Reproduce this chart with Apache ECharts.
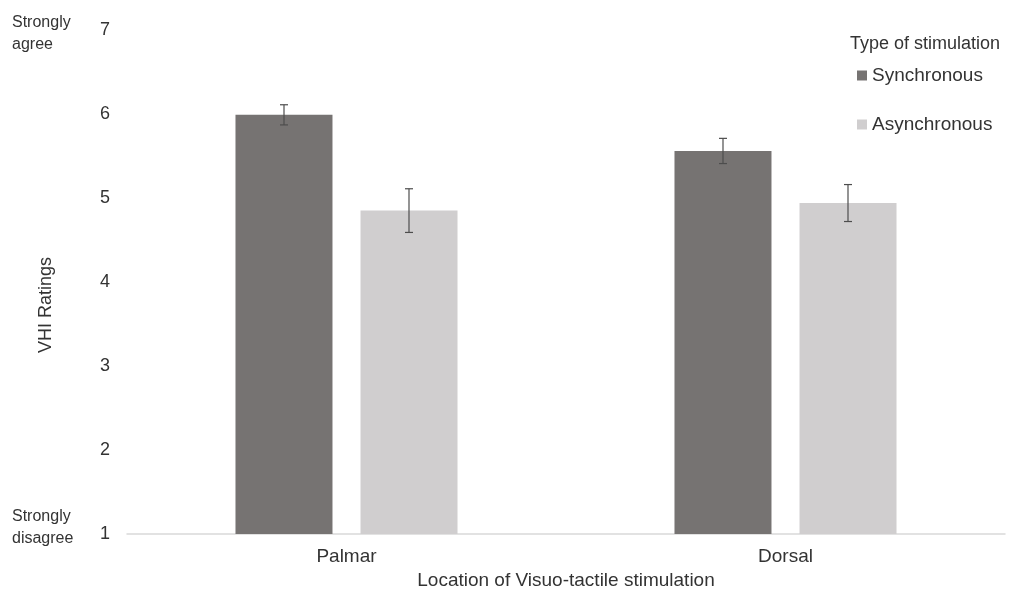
<!DOCTYPE html>
<html>
<head>
<meta charset="utf-8">
<script src="https://cdn.jsdelivr.net/npm/echarts@6/dist/echarts.min.js"></script>
<style>
  html, body { margin: 0; padding: 0; background: #ffffff; }
  #chart { width: 1011px; height: 592px; }
</style>
</head>
<body>
<div id="chart"></div>
<script>
// VHI ratings by stimulation location and type (means with error bars)
const categories = ['Palmar', 'Dorsal'];
const seriesNames = ['Synchronous', 'Asynchronous'];
const synchronousMeans = [5.99, 5.56];
const synchronousErrors = [0.12, 0.15];
const asynchronousMeans = [4.85, 4.94];
const asynchronousErrors = [0.26, 0.22];
const yTicks = [1, 2, 3, 4, 5, 6, 7];

const FONT = 'Liberation Sans, Arial, Helvetica, sans-serif';
const TEXT = '#333333';
const BAR_W = 97;
const BAR_GAP = 28;

function errorSeries(means, errors, side) {
  return {
    type: 'custom',
    name: side < 0 ? 'err-sync' : 'err-async',
    z: 10,
    silent: true,
    data: means.map((m, i) => [i, m - errors[i], m + errors[i]]),
    renderItem: function (params, api) {
      const off = side * (BAR_W + BAR_GAP) / 2;
      const lo = api.coord([api.value(0), api.value(1)]);
      const hi = api.coord([api.value(0), api.value(2)]);
      const x = lo[0] + off;
      const cap = 4;
      const style = { stroke: '#4d4d4d', lineWidth: 1.2 };
      return {
        type: 'group',
        children: [
          { type: 'line', shape: { x1: x, y1: lo[1], x2: x, y2: hi[1] }, style: style },
          { type: 'line', shape: { x1: x - cap, y1: lo[1], x2: x + cap, y2: lo[1] }, style: style },
          { type: 'line', shape: { x1: x - cap, y1: hi[1], x2: x + cap, y2: hi[1] }, style: style }
        ]
      };
    }
  };
}

const chart = echarts.init(document.getElementById('chart'), null, { renderer: 'canvas' });
chart.setOption({
  backgroundColor: '#ffffff',
  animation: false,
  textStyle: { fontFamily: FONT, color: TEXT },
  grid: { left: 127, right: 6, top: 30, bottom: 58, containLabel: false, outerBoundsMode: 'none' },
  title: {
    text: 'Type of stimulation',
    right: 6,
    top: 30,
    textStyle: { fontFamily: FONT, fontSize: 18, fontWeight: 'normal', color: TEXT }
  },
  legend: {
    data: seriesNames,
    orient: 'vertical',
    left: 852,
    top: 61,
    itemWidth: 10,
    itemHeight: 10,
    itemGap: 30,
    icon: 'rect',
    textStyle: { fontFamily: FONT, fontSize: 19, color: TEXT, padding: [0, 0, 0, 0] }
  },
  xAxis: {
    type: 'category',
    data: categories,
    name: 'Location of Visuo-tactile stimulation',
    nameLocation: 'middle',
    nameGap: 37,
    nameTextStyle: { fontFamily: FONT, fontSize: 19, color: TEXT },
    axisLine: { lineStyle: { color: '#d9d9d9', width: 1.5 } },
    axisTick: { show: false },
    axisLabel: { fontFamily: FONT, fontSize: 19, color: TEXT, margin: 13 }
  },
  yAxis: {
    type: 'value',
    min: yTicks[0],
    max: yTicks[yTicks.length - 1],
    interval: 1,
    name: 'VHI Ratings',
    nameLocation: 'middle',
    nameGap: 72,
    nameTextStyle: { fontFamily: FONT, fontSize: 18, color: TEXT, padding: [0, 46, 0, 0] },
    axisLine: { show: false },
    axisTick: { show: false },
    splitLine: { show: false },
    axisLabel: { fontFamily: FONT, fontSize: 18, color: TEXT, margin: 17 }
  },
  graphic: [
    { type: 'text', left: 12, top: 12, style: { text: 'Strongly\nagree', font: '16px ' + FONT, fill: TEXT, lineHeight: 22 } },
    { type: 'text', left: 12, top: 506, style: { text: 'Strongly\ndisagree', font: '16px ' + FONT, fill: TEXT, lineHeight: 22 } }
  ],
  series: [
    {
      type: 'bar',
      name: seriesNames[0],
      data: synchronousMeans,
      barWidth: BAR_W,
      barGap: (BAR_GAP / BAR_W * 100).toFixed(1) + '%',
      itemStyle: { color: '#767372' }
    },
    {
      type: 'bar',
      name: seriesNames[1],
      data: asynchronousMeans,
      barWidth: BAR_W,
      itemStyle: { color: '#d0cecf' }
    },
    errorSeries(synchronousMeans, synchronousErrors, -1),
    errorSeries(asynchronousMeans, asynchronousErrors, 1)
  ]
});
</script>
</body>
</html>
